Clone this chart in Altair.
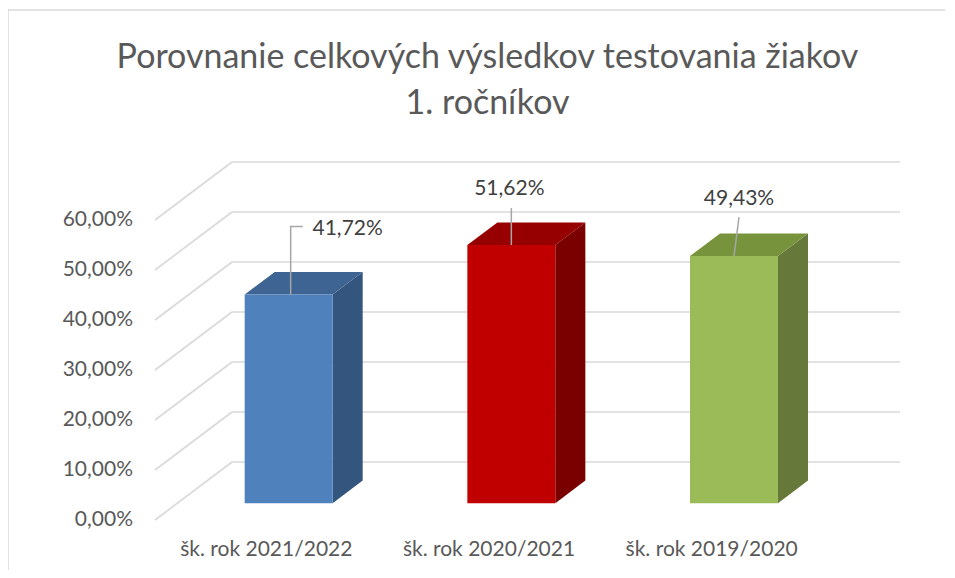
import altair as alt
import pandas as pd

# ---- data ----
categories = ["šk. rok 2021/2022", "šk. rok 2020/2021", "šk. rok 2019/2020"]
values = [41.72, 51.62, 49.43]
tick_values = [0, 10, 20, 30, 40, 50, 60]
title_lines = ["Porovnanie celkových výsledkov testovania žiakov", "1. ročníkov"]

# ---- styles ----
front_colors = ["#4F81BD", "#C00000", "#9BBB59"]
top_colors = ["#3D6492", "#960000", "#77933C"]
side_colors = ["#34557E", "#7A0000", "#66793A"]
grid_color = "#D9D9D9"
text_color = "#595959"
label_color = "#404040"
FONT = "Lato"
FS = 21

# ---- 3D geometry (in data units) ----
W, H = 745, 358            # plot area px
DX = 0.3458                # wall depth, x (category units)
DY = 11.6                  # wall depth, y (percent units)
PX_X = W / (3 + DX)        # px per category unit
PX_Y = H / (60 + DY)       # px per percent
F = 0.29                   # depth of bar front
G = 0.39                   # bar depth fraction
BAR_W = 0.395

# label offsets (px) relative to bar front-top centre; leader polylines (px)
label_off = [(59, -66), (-2, -56), (5, -57)]
leaders = [[(2, 0), (2, -68), (14, -68)], [(0, 0), (0, -37)], [(0, 0), (5, -39)]]

xs = alt.Scale(domain=[0, 3 + DX], nice=False, zero=False)
ys = alt.Scale(domain=[0, 60 + DY], nice=False, zero=False)

def X(f="x"):
    return alt.X(f"{f}:Q", scale=xs, axis=None)

def Y(f="y"):
    return alt.Y(f"{f}:Q", scale=ys, axis=None)

# gridlines (side wall diagonals + back wall)
grid_rows = []
for v in tick_values:
    grid_rows.append(dict(x=0, y=v, x2=DX, y2=v + DY))
    grid_rows.append(dict(x=DX, y=v + DY, x2=3 + DX, y2=v + DY))
grid = alt.Chart(pd.DataFrame(grid_rows)).mark_rule(color=grid_color, strokeWidth=1.6).encode(
    x=X(), y=Y(), x2="x2:Q", y2="y2:Q")

# bars
front_rows, top_rows, side_rows, lab_rows, lead_rows = [], [], [], [], []
dxb, dyb = G * DX, G * DY
for i, (c, v) in enumerate(zip(categories, values)):
    xl = i + 0.5 - BAR_W / 2 + F * DX
    xr = xl + BAR_W
    y0 = F * DY
    yt = v + y0
    front_rows.append(dict(x=xl, x2=xr, y=y0, y2=yt, col=front_colors[i]))
    top_rows.append(dict(cat=c, y=yt, x=xl, x2=xr, col=top_colors[i]))
    top_rows.append(dict(cat=c, y=yt + dyb, x=xl + dxb, x2=xr + dxb, col=top_colors[i]))
    side_rows.append(dict(cat=c, x=xr, y=y0, y2=yt, col=side_colors[i]))
    side_rows.append(dict(cat=c, x=xr + dxb, y=y0 + dyb, y2=yt + dyb, col=side_colors[i]))
    cx = (xl + xr) / 2
    ox, oy = label_off[i]
    lab_rows.append(dict(x=cx + ox / PX_X, y=yt - oy / PX_Y,
                         t=f"{v:.2f}".replace(".", ",") + "%"))
    for k, (px, py) in enumerate(leaders[i]):
        lead_rows.append(dict(cat=c, k=k, x=cx + px / PX_X, y=yt - py / PX_Y))

front = alt.Chart(pd.DataFrame(front_rows)).mark_rect().encode(
    x=X(), x2="x2:Q", y=Y(), y2="y2:Q", color=alt.Color("col:N", scale=None))
top = alt.Chart(pd.DataFrame(top_rows)).mark_area(orient="horizontal").encode(
    y=Y(), x=X(), x2="x2:Q", detail="cat:N", color=alt.Color("col:N", scale=None))
side = alt.Chart(pd.DataFrame(side_rows)).mark_area().encode(
    x=X(), y=Y(), y2="y2:Q", detail="cat:N", color=alt.Color("col:N", scale=None))

leader = alt.Chart(pd.DataFrame(lead_rows)).mark_line(color="#A6A6A6", strokeWidth=1.5).encode(
    x=X(), y=Y(), detail="cat:N", order="k:Q")
labels = alt.Chart(pd.DataFrame(lab_rows)).mark_text(
    font=FONT, fontSize=FS, color=label_color, baseline="middle").encode(
    x=X(), y=Y(), text="t:N")

ax_rows = [dict(x=0, y=v, t=f"{v:.2f}".replace(".", ",") + "%") for v in tick_values]
axis_labels = alt.Chart(pd.DataFrame(ax_rows)).mark_text(
    font=FONT, fontSize=FS, color=text_color, align="right", baseline="middle", dx=-22).encode(
    x=X(), y=Y(), text="t:N")

cat_rows = [dict(x=i + 0.5, y=0, t=c) for i, c in enumerate(categories)]
cat_labels = alt.Chart(pd.DataFrame(cat_rows)).mark_text(
    font=FONT, fontSize=FS, color=text_color, baseline="middle", dy=30).encode(
    x=X(), y=Y(), text="t:N")

# chart frame (top and left edges; right/bottom lie outside the window)
one = pd.DataFrame([{"a": 0}])
frame_top = alt.Chart(one).mark_rule(color=grid_color, strokeWidth=1.5).encode(
    x=alt.value(-147), x2=alt.value(W + 300), y=alt.value(-152))
frame_left = alt.Chart(one).mark_rule(color=grid_color, strokeWidth=1.5).encode(
    x=alt.value(-147), y=alt.value(-152), y2=alt.value(H + 300))

chart = alt.layer(frame_top, frame_left, grid, side, top, front, leader, labels,
                  axis_labels, cat_labels).properties(
    width=W, height=H,
    autosize=alt.AutoSizeParams(type="none"),
    padding={"left": 147, "top": 154, "right": 45, "bottom": 50},
    title=alt.Title(text=title_lines, anchor="middle", dx=-40, offset=-112,
                    font=FONT, fontSize=34, fontWeight="normal", color=text_color,
                    lineHeight=46),
).configure_view(stroke=None)

chart.save("out.html", embed_options={"renderer": "svg", "actions": False})
